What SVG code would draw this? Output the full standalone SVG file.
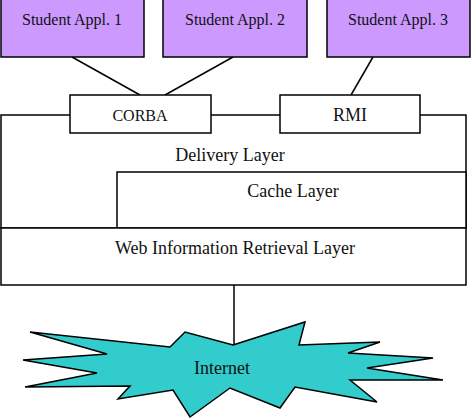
<svg xmlns="http://www.w3.org/2000/svg" width="471" height="419" viewBox="0 0 471 419">
<style>
.app{fill:#cc99ff;stroke:#000;stroke-width:1.5}
.box{fill:#fff;stroke:#000;stroke-width:1.5}
.t{font-family:"Liberation Serif","Times New Roman",serif;fill:#111;text-anchor:middle}
.c{stroke:#000;stroke-width:1.5;fill:none}
</style>
<g id="delivery">
<rect class="box" x="1" y="115" width="465" height="113"/>
<text class="t" x="230" y="161" font-size="18">Delivery Layer</text>
</g>
<g id="cache">
<rect class="box" x="117" y="172" width="349" height="56"/>
<text class="t" x="293" y="197" font-size="18">Cache Layer</text>
</g>
<g id="web">
<rect class="box" x="1" y="228" width="465" height="57"/>
<text class="t" x="235" y="254" font-size="18">Web Information Retrieval Layer</text>
</g>
<g id="connectors">
<line class="c" x1="72" y1="57" x2="140" y2="95"/>
<line class="c" x1="233" y1="57" x2="165" y2="95"/>
<line class="c" x1="373" y1="57" x2="351" y2="95"/>
<line class="c" x1="234" y1="285" x2="234" y2="345"/>
</g>
<g id="app1">
<rect class="app" x="1" y="-2" width="143" height="59"/>
<text class="t" x="72" y="25" font-size="16">Student Appl. 1</text>
</g>
<g id="app2">
<rect class="app" x="163" y="-2" width="144" height="59"/>
<text class="t" x="235" y="25" font-size="16">Student Appl. 2</text>
</g>
<g id="app3">
<rect class="app" x="327" y="-2" width="143" height="59"/>
<text class="t" x="398" y="25" font-size="16">Student Appl. 3</text>
</g>
<g id="corba">
<rect class="box" x="70" y="95" width="141" height="38"/>
<text class="t" x="140" y="121" font-size="16">CORBA</text>
</g>
<g id="rmi">
<rect class="box" x="280" y="95" width="140" height="38"/>
<text class="t" x="350" y="121" font-size="18">RMI</text>
</g>
<g id="internet">
<polygon fill="#33cccc" stroke="#000" stroke-width="1.5" points="233,345 305,322 299,345 380,342 348,353 433,358 367,368 443,380 350,380 377,402 295,387 280,408 230,388 190,417 173,390 118,399 130,386 25,387 97,373 23,360 107,354 30,332 170,347 185,332"/>
<text class="t" x="222" y="374" font-size="18">Internet</text>
</g>
</svg>
